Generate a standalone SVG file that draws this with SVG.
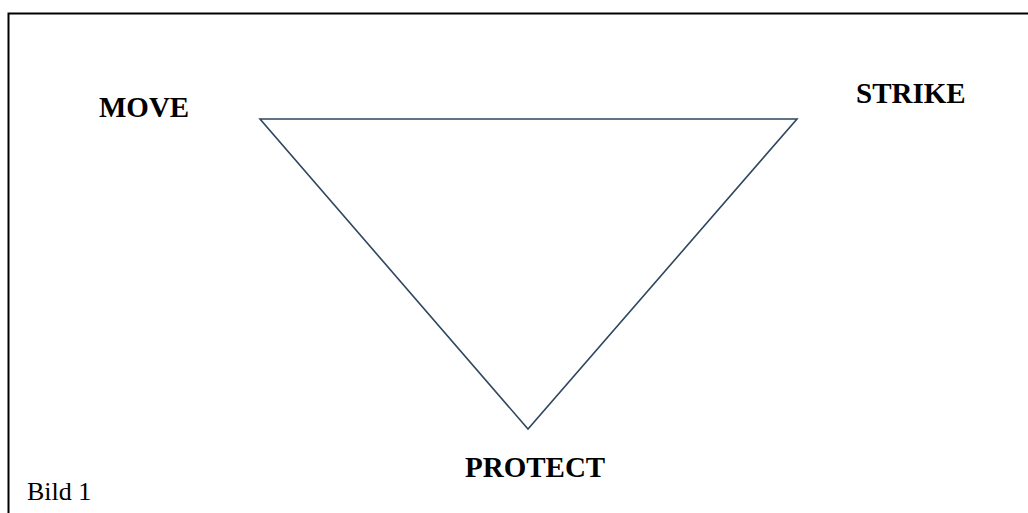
<svg xmlns="http://www.w3.org/2000/svg" width="1028" height="513" viewBox="0 0 1028 513">
<style>
.lbl{font-family:"Liberation Serif","Times New Roman",serif;font-weight:bold;font-size:29px;fill:#000}
.cap{font-family:"Liberation Serif","Times New Roman",serif;font-size:26px;fill:#000}
.tri{fill:none;stroke:#2e4760;stroke-width:1.6;stroke-linejoin:miter}
</style>
<rect width="1028" height="513" fill="#fff"/>
<path d="M8.5,513 V13.5 H1028" fill="none" stroke="#000" stroke-width="2"/>
<g id="connectors">
<polygon class="tri" points="260,119 797,119 528,429"/>
</g>
<g id="move"><text class="lbl" x="99" y="117">MOVE</text></g>
<g id="strike"><text class="lbl" x="856" y="103">STRIKE</text></g>
<g id="protect"><text class="lbl" x="465" y="477">PROTECT</text></g>
<g id="caption"><text class="cap" x="27" y="500">Bild 1</text></g>
</svg>
